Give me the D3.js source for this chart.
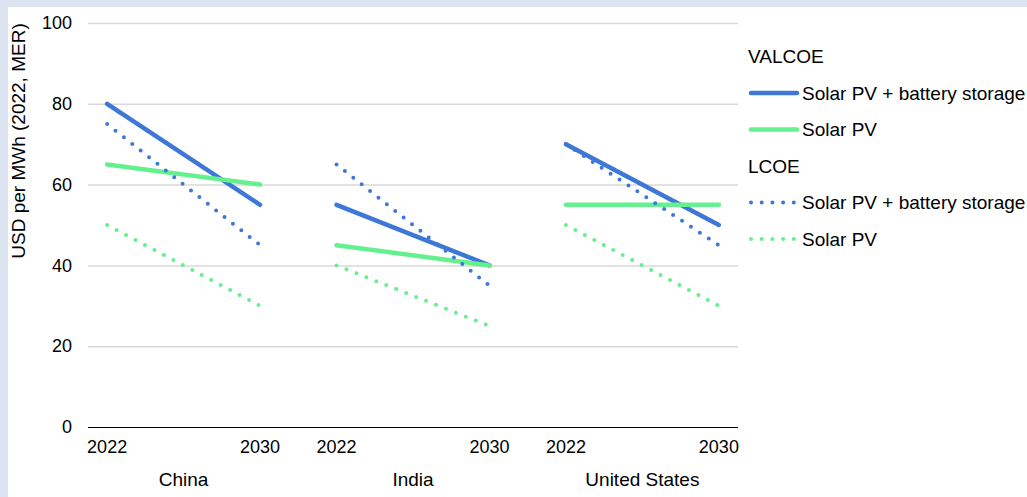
<!DOCTYPE html>
<html>
<head>
<meta charset="utf-8">
<script src="https://cdn.jsdelivr.net/npm/d3@7"></script>
<style>
    body { margin: 0; background: #dce4f2; }
    svg { display: block; font-family: Arial, "Liberation Sans", sans-serif; }
</style>
</head>
<body>
<div id="chart"></div>
<script>
// data
const countries = ['China', 'India', 'United States'];
const years = [2022, 2030];
const yTicks = [0, 20, 40, 60, 80, 100];

// one [2022, 2030] pair per country
const valcoeBattery = [[80, 55], [55, 40], [70, 50]];
const valcoeSolar = [[65, 60], [45, 40], [55, 55]];
const lcoeBattery = [[75, 45], [65, 35], [70, 45]];
const lcoeSolar = [[50, 30], [40, 25], [50, 30]];

const legendGroups = ['VALCOE', 'LCOE'];
const seriesNames = ['Solar PV + battery storage', 'Solar PV'];

const series = [
    { group: 'VALCOE', name: seriesNames[0], values: valcoeBattery, color: '#3d78d6', dotted: false },
    { group: 'VALCOE', name: seriesNames[1], values: valcoeSolar, color: '#64f08e', dotted: false },
    { group: 'LCOE', name: seriesNames[0], values: lcoeBattery, color: '#3d78d6', dotted: true },
    { group: 'LCOE', name: seriesNames[1], values: lcoeSolar, color: '#64f08e', dotted: true }
];

const width = 1027, height = 497;
const margin = { left: 88, right: 289, top: 23, bottom: 70 };
const plotW = width - margin.left - margin.right;
const plotH = height - margin.top - margin.bottom;

// each country takes 8 years plus a 4 year gap on a shared linear axis
const groupStep = 12;
const slot = (i, year) => i * groupStep + (year - years[0]) + 1;

const x = d3.scaleLinear().domain([0, groupStep * countries.length - 2]).range([0, plotW]);
const y = d3.scaleLinear().domain([0, 100]).range([plotH, 0]);

const svg = d3.select('#chart').append('svg')
    .attr('width', width)
    .attr('height', height);

svg.append('rect')
    .attr('x', 8).attr('y', 7)
    .attr('width', width - 8).attr('height', height - 7)
    .attr('fill', '#ffffff');

const chart = svg.append('g')
    .attr('transform', `translate(${margin.left}, ${margin.top})`);

// gridlines and y labels
const yAxis = chart.append('g')
    .call(d3.axisLeft(y).tickValues(yTicks).tickSize(-plotW).tickPadding(16));
yAxis.select('.domain').remove();
yAxis.selectAll('.tick line')
    .attr('stroke', d => d === 0 ? '#000000' : '#d9d9d9')
    .attr('stroke-width', d => d === 0 ? 1.2 : 1.5);
yAxis.selectAll('.tick text')
    .attr('font-size', 18)
    .attr('fill', '#000000');

// x labels: years then countries
const xLabels = chart.append('g').attr('class', 'x-labels');
countries.forEach((c, i) => {
    years.forEach(yr => {
        xLabels.append('text')
            .attr('x', x(slot(i, yr)))
            .attr('y', plotH + 26)
            .attr('text-anchor', 'middle')
            .attr('font-size', 18)
            .text(yr);
    });
    xLabels.append('text')
        .attr('x', (x(slot(i, years[0])) + x(slot(i, years[1]))) / 2)
        .attr('y', plotH + 59)
        .attr('text-anchor', 'middle')
        .attr('font-size', 19)
        .text(c);
});

// y axis title
svg.append('text')
    .attr('transform', 'rotate(-90)')
    .attr('x', -141)
    .attr('y', 25)
    .attr('text-anchor', 'middle')
    .attr('font-size', 19)
    .text('USD per MWh (2022, MER)');

const line = d3.line()
    .x(d => x(d.pos))
    .y(d => y(d.value));

function styleLine(sel, s) {
    sel.attr('fill', 'none')
        .attr('stroke', s.color)
        .attr('stroke-linecap', 'round');
    if (s.dotted) {
        sel.attr('stroke-width', 4).attr('stroke-dasharray', '0 10.7');
    } else {
        sel.attr('stroke-width', 4.5);
    }
    return sel;
}

series.forEach(s => {
    s.values.forEach((pair, i) => {
        const pts = pair.map((v, k) => ({ pos: slot(i, years[k]), value: v }));
        chart.append('path')
            .datum(pts)
            .attr('d', line)
            .call(styleLine, s);
    });
});

// legend
const legend = svg.append('g').attr('transform', 'translate(750, 56.5)');
const rowH = 36.5;
let row = 0;
legendGroups.forEach(g => {
    legend.append('text')
        .attr('x', -2)
        .attr('y', row * rowH)
        .attr('dy', '0.35em')
        .attr('font-size', 19)
        .text(g);
    row++;
    series.filter(s => s.group === g).forEach(s => {
        const ry = row * rowH;
        legend.append('path')
            .attr('d', `M1,${ry}L47,${ry}`)
            .call(styleLine, s);
        legend.append('text')
            .attr('x', 52)
            .attr('y', ry)
            .attr('dy', '0.35em')
            .attr('font-size', 19)
            .text(s.name);
        row++;
    });
});
</script>
</body>
</html>
